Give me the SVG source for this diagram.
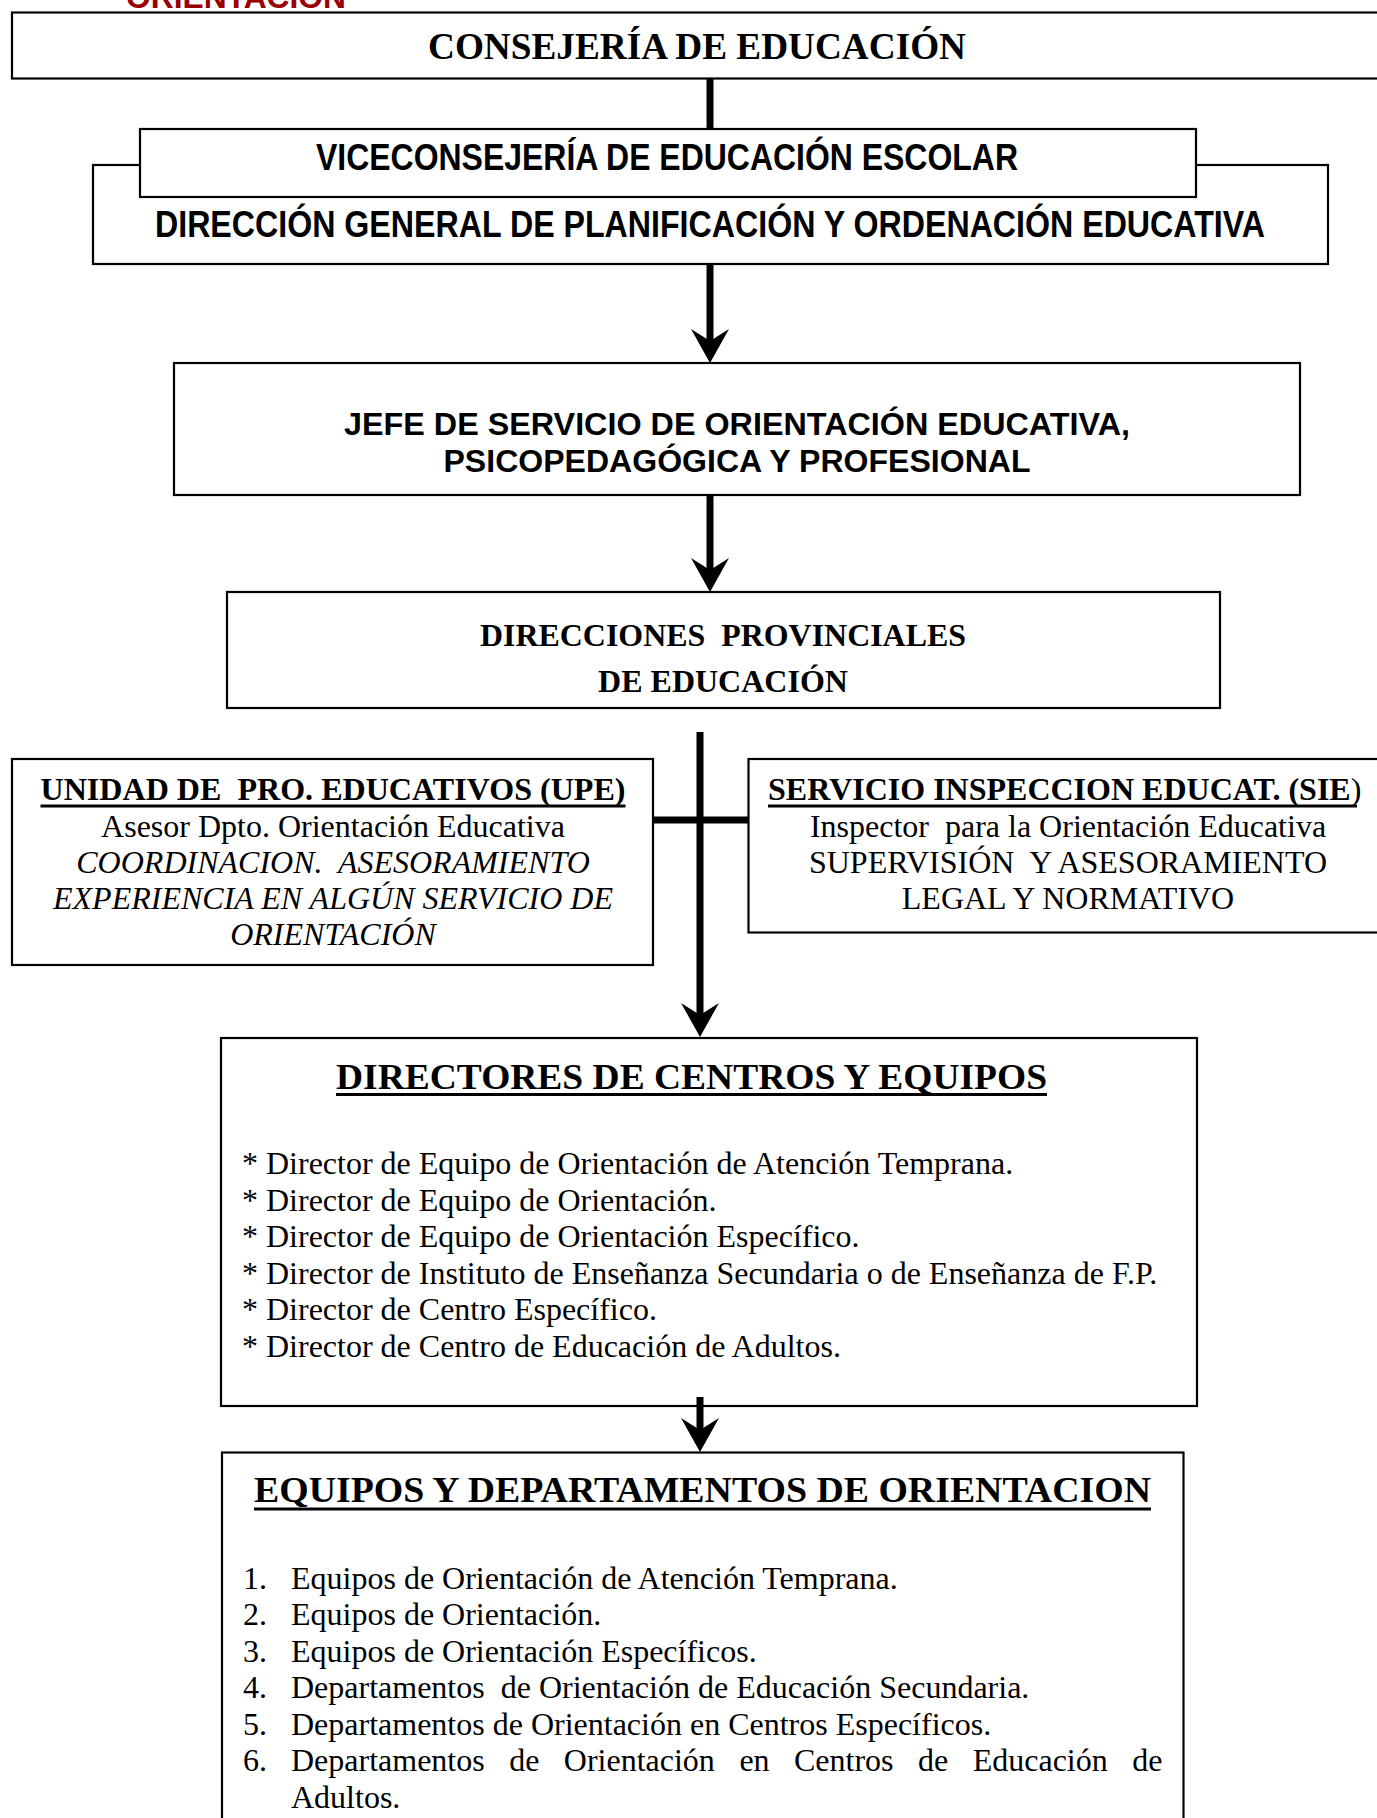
<svg xmlns="http://www.w3.org/2000/svg" width="1377" height="1818" viewBox="0 0 1377 1818">
<defs>
<style>
.box{fill:#fff;stroke:#000;stroke-width:2.2}
.tb{font-family:"Liberation Serif","Times New Roman",serif;font-weight:bold;fill:#000}
.tr{font-family:"Liberation Serif","Times New Roman",serif;font-weight:normal;fill:#000}
.ti{font-family:"Liberation Serif","Times New Roman",serif;font-style:italic;fill:#000}
.ab{font-family:"Liberation Sans",Arial,sans-serif;font-weight:bold;fill:#000}
.an{font-family:"Liberation Sans Narrow","Arial Narrow","Liberation Sans",Arial,sans-serif;font-weight:bold;fill:#000}
.ul{stroke:#000;stroke-width:3}
.shaft{stroke:#000;stroke-width:7;fill:none}
.head{fill:#000}
text{white-space:pre}
</style>
<path id="ahead" d="M0,0 L-19,-34 L0,-22 L19,-34 Z"/>
</defs>
<rect width="1377" height="1818" fill="#fff"/>

<g id="header">
<text x="126" y="8" class="ab" font-size="31" fill="#990000" style="fill:#990000" textLength="220" lengthAdjust="spacingAndGlyphs">ORIENTACION</text>
</g>

<g id="consejeria">
<rect class="box" x="12" y="12.5" width="1390" height="66"/>
<text x="697" y="59" text-anchor="middle" class="tb" font-size="38" textLength="538" lengthAdjust="spacingAndGlyphs">CONSEJERÍA DE EDUCACIÓN</text>
</g>

<g id="direccion-general">
<rect class="box" x="93" y="165" width="1235" height="99"/>
<text x="710" y="237" text-anchor="middle" class="an" font-size="36" textLength="1110" lengthAdjust="spacingAndGlyphs">DIRECCIÓN GENERAL DE PLANIFICACIÓN Y ORDENACIÓN EDUCATIVA</text>
</g>

<g id="viceconsejeria">
<rect class="box" x="140" y="129" width="1056" height="68"/>
<text x="667" y="170" text-anchor="middle" class="an" font-size="36" textLength="702" lengthAdjust="spacingAndGlyphs">VICECONSEJERÍA DE EDUCACIÓN ESCOLAR</text>
</g>

<g id="jefe-servicio">
<rect class="box" x="174" y="363" width="1126" height="132"/>
<text x="737" y="435" text-anchor="middle" class="ab" font-size="32" textLength="786" lengthAdjust="spacingAndGlyphs">JEFE DE SERVICIO DE ORIENTACIÓN EDUCATIVA,</text>
<text x="737" y="472" text-anchor="middle" class="ab" font-size="32" textLength="587" lengthAdjust="spacingAndGlyphs">PSICOPEDAGÓGICA Y PROFESIONAL</text>
</g>

<g id="direcciones-provinciales">
<rect class="box" x="227" y="592" width="993" height="116"/>
<text x="723" y="646" text-anchor="middle" class="tb" font-size="32" textLength="486" lengthAdjust="spacingAndGlyphs">DIRECCIONES  PROVINCIALES</text>
<text x="723" y="692" text-anchor="middle" class="tb" font-size="32">DE EDUCACIÓN</text>
</g>

<g id="upe">
<rect class="box" x="12" y="759" width="641" height="206"/>
<text x="333" y="800" text-anchor="middle" class="tb" font-size="32" textLength="585" lengthAdjust="spacingAndGlyphs">UNIDAD DE  PRO. EDUCATIVOS (UPE)</text>
<line class="ul" x1="40.5" y1="806" x2="625.5" y2="806"/>
<text x="333" y="836.5" text-anchor="middle" class="tr" font-size="32">Asesor Dpto. Orientación Educativa</text>
<text x="333" y="873" text-anchor="middle" class="ti" font-size="32">COORDINACION.  ASESORAMIENTO</text>
<text x="333" y="909" text-anchor="middle" class="ti" font-size="32">EXPERIENCIA EN ALGÚN SERVICIO DE</text>
<text x="333" y="945" text-anchor="middle" class="ti" font-size="32">ORIENTACIÓN</text>
</g>

<g id="sie">
<rect class="box" x="748.5" y="759" width="660" height="173.5"/>
<text x="768" y="800" class="tb" font-size="32">SERVICIO INSPECCION EDUCAT. (SIE<tspan class="tr">)</tspan></text>
<line class="ul" x1="768" y1="806" x2="1357" y2="806"/>
<text x="1068" y="836.5" text-anchor="middle" class="tr" font-size="32">Inspector  para la Orientación Educativa</text>
<text x="1068" y="873" text-anchor="middle" class="tr" font-size="32">SUPERVISIÓN  Y ASESORAMIENTO</text>
<text x="1068" y="909" text-anchor="middle" class="tr" font-size="32">LEGAL Y NORMATIVO</text>
</g>

<g id="directores">
<rect class="box" x="221" y="1038" width="976" height="368"/>
<text x="691.5" y="1088.5" text-anchor="middle" class="tb" font-size="36" textLength="711" lengthAdjust="spacingAndGlyphs">DIRECTORES DE CENTROS Y EQUIPOS</text>
<line class="ul" x1="336" y1="1094.5" x2="1047" y2="1094.5"/>
<text x="242" y="1174" class="tr" font-size="32">* Director de Equipo de Orientación de Atención Temprana.</text>
<text x="242" y="1210.6" class="tr" font-size="32">* Director de Equipo de Orientación.</text>
<text x="242" y="1247.2" class="tr" font-size="32">* Director de Equipo de Orientación Específico.</text>
<text x="242" y="1283.8" class="tr" font-size="32">* Director de Instituto de Enseñanza Secundaria o de Enseñanza de F.P.</text>
<text x="242" y="1320.4" class="tr" font-size="32">* Director de Centro Específico.</text>
<text x="242" y="1357" class="tr" font-size="32">* Director de Centro de Educación de Adultos.</text>
</g>

<g id="equipos-departamentos">
<rect class="box" x="222" y="1452.5" width="961.5" height="400"/>
<text x="702.5" y="1502" text-anchor="middle" class="tb" font-size="36" textLength="897" lengthAdjust="spacingAndGlyphs">EQUIPOS Y DEPARTAMENTOS DE ORIENTACION</text>
<line class="ul" x1="254" y1="1509" x2="1151" y2="1509"/>
<text x="243" y="1588.5" class="tr" font-size="32">1.</text>
<text x="291" y="1588.5" class="tr" font-size="32">Equipos de Orientación de Atención Temprana.</text>
<text x="243" y="1625" class="tr" font-size="32">2.</text>
<text x="291" y="1625" class="tr" font-size="32">Equipos de Orientación.</text>
<text x="243" y="1661.5" class="tr" font-size="32">3.</text>
<text x="291" y="1661.5" class="tr" font-size="32">Equipos de Orientación Específicos.</text>
<text x="243" y="1698" class="tr" font-size="32">4.</text>
<text x="291" y="1698" class="tr" font-size="32">Departamentos  de Orientación de Educación Secundaria.</text>
<text x="243" y="1734.5" class="tr" font-size="32">5.</text>
<text x="291" y="1734.5" class="tr" font-size="32">Departamentos de Orientación en Centros Específicos.</text>
<text x="243" y="1771" class="tr" font-size="32">6.</text>
<text y="1771" class="tr" font-size="32"><tspan x="291">Departamentos</tspan><tspan x="509.2">de</tspan><tspan x="563.8">Orientación</tspan><tspan x="739.4">en</tspan><tspan x="794">Centros</tspan><tspan x="918">de</tspan><tspan x="972.7">Educación</tspan><tspan x="1132.2">de</tspan></text>
<text x="291" y="1807.5" class="tr" font-size="32">Adultos.</text>
</g>

<g id="connectors">
<line class="shaft" x1="710" y1="79" x2="710" y2="129"/>
<line class="shaft" x1="710" y1="264" x2="710" y2="343"/>
<use href="#ahead" x="710" y="363"/>
<line class="shaft" x1="710" y1="495" x2="710" y2="572"/>
<use href="#ahead" x="710" y="592"/>
<line class="shaft" x1="700" y1="732" x2="700" y2="1017"/>
<line class="shaft" x1="653" y1="820" x2="748.5" y2="820"/>
<use href="#ahead" x="700" y="1037"/>
<line class="shaft" x1="700" y1="1397" x2="700" y2="1432"/>
<use href="#ahead" x="700" y="1452"/>
</g>
</svg>
